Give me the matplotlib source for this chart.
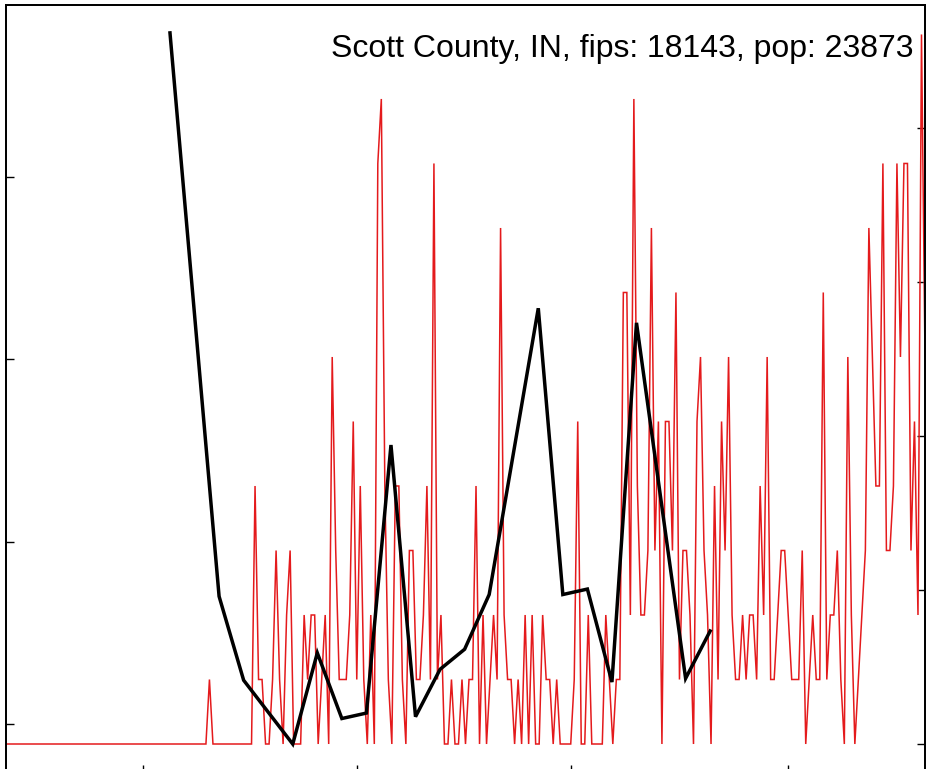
import matplotlib
matplotlib.use("Agg")
import matplotlib.pyplot as plt
import pandas as pd
import numpy as np

# ---- data ----
county_label = "Scott County, IN, fips: 18143, pop: 23873"
population = 23873
start_date = "2020-01-22"

# daily new cases (red)
daily_cases = (
    [0] * 58 + [1] + [0] * 12 +
    [4, 1, 1, 0, 0, 1, 3, 1, 0, 2, 3, 0, 0, 0] +
    [2, 1, 2, 2, 0, 1, 2, 0, 6, 3, 1, 1, 1, 2, 5] +
    [1, 4, 1, 0, 2, 0, 9, 10, 4, 1, 0, 4, 4, 1, 0, 3, 3, 1, 1, 2] +
    [4, 1, 9, 1, 2, 0, 0, 1, 0, 0, 1, 0, 1, 1, 4, 0, 2, 0, 1, 2] +
    [1, 8, 2, 1, 1, 0, 1, 0, 2, 0, 2, 0, 0, 2, 1, 1, 0, 1, 0, 0] +
    [0, 0, 1, 5, 0, 0, 2, 0, 0, 0, 0, 2, 1, 0, 1, 1, 7, 7, 2, 10] +
    [4, 2, 2, 3, 8, 3, 5, 0, 5, 5, 3, 7, 1, 3, 3, 2, 0, 5, 6, 3] +
    [2, 0, 4, 1, 5, 3, 6, 2, 1, 1, 2, 1, 2, 2, 1, 4, 2, 6, 1, 1] +
    [2, 3, 3, 2, 1, 1, 1, 3, 0, 1, 2, 1, 1, 7, 1, 2, 2, 3, 1, 0] +
    [6, 2, 0, 1, 2, 3, 8, 6, 4, 4, 9, 3, 3, 4, 9, 6, 9, 9, 3, 5, 2, 11, 6]
)

# weekly series (black)
weekly_start = "2020-03-08 18:00"
weekly_index = [0, 2, 3, 5, 6, 7, 8, 9, 10, 11, 12, 13, 15, 16, 17, 18, 19, 21, 22]
weekly_values = [4.79, 1.70, 1.24, 0.89, 1.39, 1.03, 1.06, 2.53, 1.04, 1.30,
                 1.41, 1.71, 3.28, 1.71, 1.74, 1.23, 3.20, 1.25, 1.51]

x_ticks = ["2020-03-01", "2020-05-01", "2020-07-01", "2020-09-01"]
left_ticks = [1, 2, 3, 4]
right_ticks = [0, 10, 20, 30, 40]

# ---- derived ----
daily_dates = pd.date_range(start_date, periods=len(daily_cases), freq="D")
daily_rate = np.array(daily_cases) * 100000.0 / population
weekly_dates = pd.Timestamp(weekly_start) + pd.to_timedelta(np.array(weekly_index) * 7, unit="D")

W, H = 928, 769
fig = plt.figure(figsize=(W / 100, H / 100), dpi=100)
ax_left = 6 / W
ax_w = 919 / W
ax_top = 1 - 5 / H
ax_bottom = -4 / H
ax = fig.add_axes([ax_left, ax_bottom, ax_w, ax_top - ax_bottom])

red = "#e41a1c"
ax.plot(daily_dates, daily_rate, color=red, lw=1.1, solid_joinstyle="miter", zorder=2)
ax.set_xlim(daily_dates[0], daily_dates[-1])
ax.set_ylim(-1.883, 47.99)
ax.set_yticks(right_ticks)
ax.set_xticks(pd.to_datetime(x_ticks))

ax2 = ax.twinx()
ax2.set_position([ax_left, ax_bottom, ax_w, ax_top - ax_bottom])
ax2.plot(weekly_dates, weekly_values, color="black", lw=2.5, solid_joinstyle="miter", zorder=3)
ax2.set_ylim(0.7313, 4.943)
ax2.set_yticks(left_ticks)
ax2.set_xlim(daily_dates[0], daily_dates[-1])

# red scale on the right, black scale on the left
ax.tick_params(axis="y", left=False, right=True)
ax2.tick_params(axis="y", left=True, right=False)

for a in (ax, ax2):
    a.tick_params(axis="both", which="both", direction="in", length=6, width=1.0,
                  labelleft=False, labelright=False, labelbottom=False, labeltop=False,
                  color="black")
    for s in a.spines.values():
        s.set_linewidth(1.3)
        s.set_color("black")
ax2.tick_params(axis="x", which="both", bottom=False, top=False)
ax.tick_params(axis="x", top=False, bottom=True)

fig.text(914 / W, (H - 56.7) / H, county_label, ha="right", va="baseline",
         fontsize=23.0, family=["Liberation Sans", "DejaVu Sans"], color="black")

fig.savefig("out.png", dpi=100)
